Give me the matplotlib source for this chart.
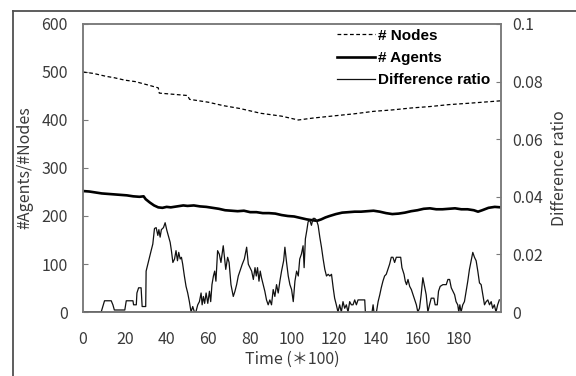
import matplotlib
matplotlib.use("Agg")
import matplotlib.pyplot as plt
from matplotlib.lines import Line2D

plt.rcParams['font.family'] = ['Noto Sans CJK JP', 'DejaVu Sans']

# time axis (*100)
node_t = [0, 5, 11, 15, 20, 25, 31, 36, 36.5, 42, 50, 51, 60, 67, 75, 85, 95, 103,
          110, 121, 130, 139, 148, 157, 166, 175, 185, 200]
node_v = [500, 497, 491, 488, 483, 480, 473, 467, 456, 454, 451, 443, 437, 430, 424,
          414, 408, 400, 404, 409, 413, 418, 421, 425, 428, 432, 435, 440]

agent_t = [0, 3, 6, 9, 12, 15, 18, 21, 24, 27, 29, 30, 32, 34, 36, 38, 40, 42, 45, 48,
           50, 53, 56, 59, 62, 65, 68, 71, 74, 77, 80, 83, 86, 89, 92, 95, 98, 101, 104,
           107, 110, 112, 114, 116, 118, 121, 124, 127, 130, 133, 136, 139, 142, 145,
           148, 151, 154, 157, 160, 163, 166, 169, 172, 175, 178, 181, 184, 187, 189,
           191, 194, 197, 200]
agent_v = [252, 251, 249, 247, 246, 245, 244, 243, 241, 240, 241, 235, 228, 222, 218,
           217, 219, 218, 220, 222, 221, 222, 220, 219, 217, 215, 212, 211, 210, 211,
           208, 208, 206, 206, 205, 202, 200, 199, 196, 193, 191, 190, 193, 197, 200,
           204, 207, 208, 209, 209, 210, 211, 209, 206, 204, 205, 207, 210, 212, 215,
           216, 214, 214, 215, 216, 214, 214, 212, 209, 212, 217, 219, 218]

diff_t = [0, 8.7, 10.3, 13.5, 14.3, 15, 20, 20.7, 23.9, 24.2, 25.5, 25.8, 26.6, 27.8,
          28.3, 30.0, 30.2, 31.0, 31.8, 32.6, 33.4, 34.2, 35.0, 35.8, 36.3, 36.9, 37.5,
          38.5, 39.3, 40.1, 41.0, 41.7, 42.3, 43.0, 43.8, 44.5, 45.2, 45.8, 46.5, 47.1,
          47.7, 48.5, 49.3, 50.1, 50.9, 51.7, 52.5, 53.3, 54.0, 54.9, 55.7, 56.5, 57.0,
          57.6, 58.2, 58.9, 59.7, 60.5, 61.1, 61.7, 62.4, 63.0, 63.6, 64.4, 65.2, 66.0,
          66.8, 67.1, 68.3, 69.2, 69.9, 70.8, 71.9, 72.7, 73.5, 74.3, 75.1, 76.2, 77.2,
          78.3, 79.1, 79.9, 80.7, 81.5, 82.3, 82.9, 83.5, 84.2, 84.8, 85.4, 86.2, 87.0,
          87.8, 88.6, 89.4, 90.2, 91.0, 91.8, 92.6, 93.4, 94.2, 95.0, 96.0, 96.6, 97.4,
          98.2, 99.0, 99.8, 100.6, 101.4, 102.2, 103.0, 103.7, 104.5, 105.3, 105.8,
          106.4, 107.1, 107.7, 108.5, 109.3, 110.1, 110.9, 111.7, 112.5, 113.3, 114.1,
          114.9, 115.7, 116.5, 117.3, 118.1, 118.9, 119.7, 120.4, 121.2, 122.0, 122.8,
          123.6, 124.4, 125.2, 126.0, 126.8, 127.6, 128.4, 129.2, 130.0, 130.8, 131.6,
          134.8, 135.1, 138.3, 138.8, 139.2, 140.4, 141.2, 142.0, 142.7, 143.5, 144.3,
          145.1, 145.9, 146.7, 147.5, 148.3, 149.1, 149.9, 152.0, 152.6, 153.6, 154.2,
          154.8, 155.5, 156.3, 157.1, 157.9, 158.7, 159.5, 160.2, 161.0, 161.8, 162.6,
          163.4, 164.2, 165.0, 165.8, 166.6, 167.9, 168.5, 169.5, 170.1, 170.9, 172.2,
          173.8, 174.6, 175.4, 176.2, 177.0, 177.8, 178.5, 179.3, 179.8, 180.3, 180.9,
          181.7, 182.5, 183.3, 184.1, 184.9, 185.7, 186.5, 187.3, 188.1, 188.9, 189.7,
          190.5, 191.3, 192.1, 192.9, 193.7, 194.5, 195.3, 196.0, 196.8, 197.6, 198.4,
          199.2]
diff_v = [0, 0, 0.0039, 0.0039, 0.0025, 0.0007, 0.0007, 0.0039, 0.0039, 0.0025, 0.0025,
          0.0066, 0.0084, 0.0084, 0.0019, 0.0019, 0.0142, 0.0166, 0.019, 0.0213, 0.0236,
          0.029, 0.0293, 0.0266, 0.0286, 0.026, 0.0286, 0.0293, 0.031, 0.0284, 0.026,
          0.0242, 0.0213, 0.0172, 0.0184, 0.0213, 0.0178, 0.0207, 0.0184, 0.019, 0.0166,
          0.0125, 0.0089, 0.0066, 0.0036, 0, 0.0019, 0, 0, 0.0025, 0.0036, 0.0066, 0.0025,
          0.0054, 0.003, 0.0066, 0.003, 0.0072, 0.0036, 0.0095, 0.0125, 0.0142, 0.0107,
          0.0213, 0.0201, 0.0172, 0.0213, 0.023, 0.0148, 0.019, 0.0172, 0.0095, 0.0054,
          0.0072, 0.0095, 0.0125, 0.0142, 0.0166, 0.0184, 0.0225, 0.0166, 0.0154, 0.0142,
          0.0113, 0.0154, 0.0125, 0.0154, 0.0107, 0.0142, 0.0119, 0.0095, 0.0072, 0.0042,
          0.0025, 0.0042, 0.0025, 0.0078, 0.0054, 0.0095, 0.0066, 0.0107, 0.0142, 0.0178,
          0.0225, 0.0172, 0.0125, 0.0095, 0.0078, 0.0036, 0.0107, 0.0142, 0.0125, 0.0184,
          0.0201, 0.023, 0.0154, 0.0254, 0.0284, 0.0313, 0.0319, 0.0301, 0.0325, 0.0325,
          0.0319, 0.0301, 0.026, 0.0225, 0.0184, 0.0148, 0.0125, 0.0131, 0.0125, 0.0131,
          0.0084, 0.0048, 0.0025, 0, 0.0025, 0, 0.0036, 0.0013, 0.0025, 0, 0.0036, 0.0025,
          0.0025, 0.0042, 0.0025, 0.0042, 0.0042, 0, 0, 0.0025, 0, 0, 0.0036, 0.006,
          0.0084, 0.0107, 0.0125, 0.0131, 0.0148, 0.0166, 0.019, 0.019, 0.0172, 0.019,
          0.019, 0.0154, 0.0131, 0.0107, 0.0095, 0.0113, 0.0089, 0.0078, 0.006, 0.0042,
          0.0025, 0, 0.0013, 0.006, 0.0119, 0.0089, 0.006, 0, 0.0025, 0.0048, 0.0048,
          0.0025, 0.0025, 0.0072, 0.0089, 0.0095, 0.0095, 0.0113, 0.0113, 0.0084, 0.0072,
          0.006, 0.0036, 0.0025, 0, 0.0025, 0, 0.0025, 0.0036, 0.0072, 0.0107, 0.0148,
          0.0178, 0.0207, 0.019, 0.0178, 0.0142, 0.0101, 0.0095, 0.006, 0.0025, 0.0036,
          0.0042, 0.0025, 0.0036, 0.0013, 0.0025, 0, 0.0025, 0.0042]

xticks = list(range(0, 181, 20))
left_ticks = list(range(0, 601, 100))
right_ticks = [0, 0.02, 0.04, 0.06, 0.08, 0.1]
right_labels = ["0", "0.02", "0.04", "0.06", "0.08", "0.1"]

txt = "#3a3a3a"
spine_c = "#7a7a7a"

fig = plt.figure(figsize=(5.76, 3.76), dpi=100)
ax = fig.add_axes([0.1441, 0.1702, 0.7257, 0.766])
ax2 = ax.twinx()

ax.plot(node_t, node_v, color="black", lw=0.9, ls=(0, (3, 2)))
ax.plot(agent_t, agent_v, color="black", lw=1.9)
ax2.plot(diff_t, diff_v, color="#111111", lw=0.9)

ax.set_xlim(0, 200)
ax.set_ylim(0, 600)
ax2.set_ylim(0, 0.1)
ax.set_xticks(xticks)
ax.set_yticks(left_ticks)
ax2.set_yticks(right_ticks)
ax2.set_yticklabels(right_labels)

ax.tick_params(axis="x", length=0, pad=14, labelsize=11.5, labelcolor=txt)
ax.tick_params(axis="y", direction="in", length=3.5, pad=11, labelsize=11.5,
               labelcolor=txt, color=spine_c)
ax2.tick_params(axis="y", direction="in", length=3.5, pad=8, labelsize=11.5,
                labelcolor=txt, color=spine_c)

for a in (ax, ax2):
    for s in a.spines.values():
        s.set_color(spine_c)
        s.set_linewidth(1.1)
ax.spines["bottom"].set_color("#555555")

ax.set_xlabel("Time (＊100)", fontsize=11.5, color=txt, labelpad=2)
ax.set_ylabel("#Agents/#Nodes", fontsize=11.5, color=txt, labelpad=6)
ax2.set_ylabel("Difference ratio", fontsize=11.5, color=txt, labelpad=6)

handles = [Line2D([], [], color="black", lw=0.9, ls=(0, (3, 2))),
           Line2D([], [], color="black", lw=1.9),
           Line2D([], [], color="#111111", lw=0.9)]
names = ["# Nodes", "# Agents", "Difference ratio"]
leg = ax2.legend(handles, names, loc="upper right", bbox_to_anchor=(0.99, 1.005),
                 frameon=False,
                 prop={"family": "Liberation Sans", "weight": "bold", "size": 11},
                 handlelength=2.5, handletextpad=0.2, labelspacing=0.54,
                 borderpad=0.2, borderaxespad=0.2)

# outer frame of the picture (only left and top edges are visible)
fig.add_artist(Line2D([0.023, 0.023], [0.0, 0.972], transform=fig.transFigure,
                      color="#505050", lw=1.3))
fig.add_artist(Line2D([0.023, 1.0], [0.972, 0.972], transform=fig.transFigure,
                      color="#505050", lw=1.3))

fig.savefig("out.png", dpi=100)
